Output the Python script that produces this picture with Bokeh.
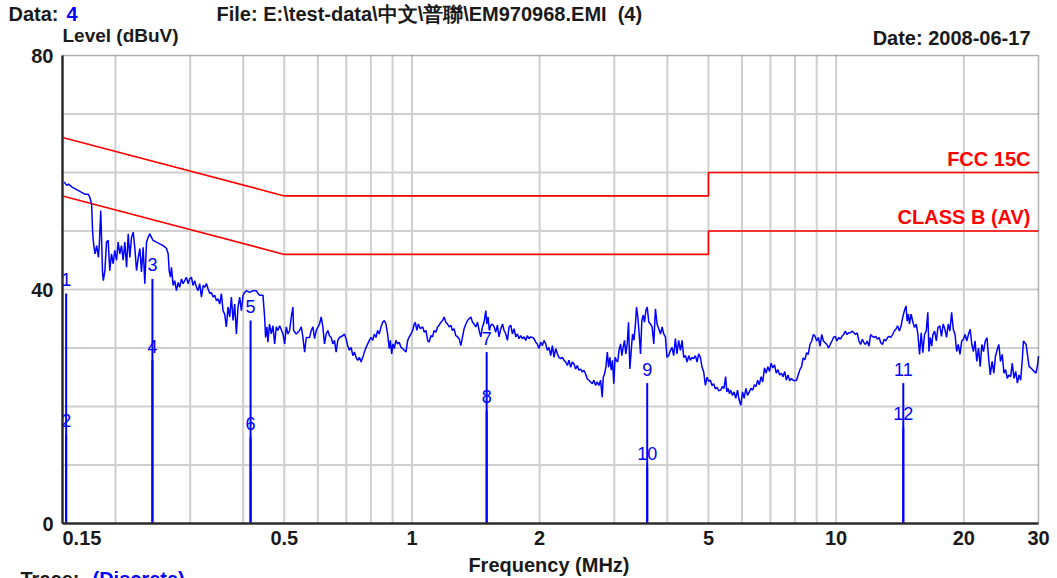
import math
from bokeh.plotting import figure
from bokeh.models import FixedTicker, Label, LabelSet, ColumnDataSource, CustomJSTickFormatter, BoxAnnotation
from bokeh.core.properties import value
from bokeh.embed import file_html
from bokeh.resources import INLINE

# ---------------- data ----------------
TRACE_FREQ_MHZ = [
    0.1512, 0.1536, 0.1550, 0.1580, 0.1608, 0.1636, 0.1664, 0.1693, 0.1724, 0.1739,
    0.1757, 0.1766, 0.1774, 0.1782, 0.1790, 0.1806, 0.1823, 0.1833, 0.1846, 0.1854,
    0.1864, 0.1872, 0.1888, 0.1905, 0.1922, 0.1939, 0.1957, 0.1975, 0.1992, 0.2011,
    0.2029, 0.2047, 0.2066, 0.2085, 0.2104, 0.2124, 0.2143, 0.2162, 0.2182, 0.2202,
    0.2222, 0.2242, 0.2263, 0.2283, 0.2303, 0.2324, 0.2345, 0.2367, 0.2388, 0.2410,
    0.2431, 0.2453, 0.2498, 0.2543, 0.2591, 0.2638, 0.2662, 0.2677, 0.2695, 0.2710,
    0.2735, 0.2758, 0.2785, 0.2810, 0.2835, 0.2861, 0.2887, 0.2912, 0.2939, 0.2966,
    0.2992, 0.3020, 0.3047, 0.3074, 0.3103, 0.3131, 0.3159, 0.3189, 0.3218, 0.3247,
    0.3277, 0.3307, 0.3336, 0.3366, 0.3397, 0.3427, 0.3459, 0.3490, 0.3521, 0.3554,
    0.3586, 0.3618, 0.3651, 0.3684, 0.3718, 0.3752, 0.3786, 0.3820, 0.3855, 0.3890,
    0.3925, 0.3961, 0.3997, 0.4033, 0.4070, 0.4143, 0.4219, 0.4296, 0.4335, 0.4374,
    0.4454, 0.4494, 0.4518, 0.4551, 0.4575, 0.4614, 0.4660, 0.4702, 0.4745, 0.4788,
    0.4831, 0.4876, 0.4965, 0.5010, 0.5055, 0.5101, 0.5147, 0.5194, 0.5240, 0.5260,
    0.5335, 0.5432, 0.5483, 0.5533, 0.5583, 0.5634, 0.5736, 0.5788, 0.5841, 0.5893,
    0.5947, 0.6054, 0.6110, 0.6165, 0.6220, 0.6277, 0.6334, 0.6390, 0.6450, 0.6508,
    0.6566, 0.6626, 0.6686, 0.6746, 0.6868, 0.6930, 0.6993, 0.7056, 0.7119, 0.7188,
    0.7253, 0.7317, 0.7384, 0.7451, 0.7516, 0.7586, 0.7656, 0.7723, 0.7793, 0.7864,
    0.7934, 0.8007, 0.8080, 0.8151, 0.8225, 0.8300, 0.8374, 0.8454,
    0.8530, 0.8605, 0.8683, 0.8761, 0.8840, 0.8895, 0.8959, 0.9020, 0.9084, 0.9165,
    0.9250, 0.9333, 0.9421, 0.9504, 0.9591, 0.9680, 0.9770, 0.9855, 0.9946, 1.0038,
    1.0125, 1.018, 1.027, 1.035, 1.046, 1.060, 1.069, 1.079, 1.089, 1.098,
    1.108, 1.118, 1.128, 1.139, 1.149, 1.159, 1.170, 1.181, 1.191, 1.202,
    1.213, 1.224, 1.235, 1.246, 1.257, 1.269, 1.281, 1.292, 1.304, 1.316,
    1.327, 1.340, 1.352, 1.364, 1.377, 1.389, 1.401, 1.414, 1.427, 1.440,
    1.453, 1.466, 1.479, 1.493, 1.501, 1.512, 1.522, 1.534, 1.548, 1.562,
    1.576, 1.590, 1.604, 1.620, 1.635, 1.649, 1.664, 1.679, 1.694, 1.710,
    1.725, 1.741, 1.757, 1.773, 1.788, 1.805, 1.821, 1.838, 1.855, 1.871,
    1.888, 1.905, 1.923, 1.940, 1.958, 1.975, 1.993, 2.012, 2.030, 2.048,
    2.067, 2.085, 2.104, 2.124, 2.143, 2.162, 2.182, 2.202, 2.221, 2.242,
    2.262, 2.283, 2.304, 2.324, 2.345, 2.366, 2.388, 2.409, 2.431, 2.453,
    2.475, 2.498, 2.520, 2.543, 2.566, 2.590, 2.613, 2.637, 2.661, 2.685,
    2.710, 2.734, 2.759, 2.784, 2.809, 2.825, 2.845, 2.865, 2.888, 2.908,
    2.928, 2.949, 2.970, 2.991, 3.012, 3.033, 3.055, 3.077, 3.103, 3.125,
    3.147, 3.170, 3.193, 3.217, 3.240, 3.264, 3.288, 3.311, 3.335, 3.360,
    3.384, 3.408, 3.433, 3.458, 3.483, 3.509, 3.534, 3.560, 3.586, 3.618,
    3.651, 3.683, 3.716, 3.750, 3.783, 3.817, 3.854, 3.888, 3.922, 3.958,
    3.993, 4.029, 4.069, 4.103, 4.140, 4.178, 4.215, 4.253, 4.295, 4.334,
    4.372, 4.414, 4.453, 4.493, 4.534, 4.575, 4.616, 4.659, 4.701, 4.743,
    4.786, 4.830, 4.873, 4.918, 4.963, 5.007, 5.052, 5.099, 5.144, 5.191,
    5.238, 5.285,
    5.343, 5.392, 5.440, 5.490, 5.523, 5.562, 5.604, 5.643, 5.695, 5.748,
    5.800, 5.854, 5.908, 5.960, 6.015, 6.071, 6.127, 6.183, 6.241, 6.299,
    6.357, 6.416, 6.471, 6.531, 6.592, 6.654, 6.715, 6.777, 6.840, 6.903,
    6.967, 7.028, 7.093, 7.158, 7.225, 7.291, 7.358, 7.427, 7.496, 7.565,
    7.631, 7.702, 7.773, 7.844, 7.917, 7.990, 8.064, 8.139, 8.214, 8.291,
    8.363, 8.440, 8.519, 8.597, 8.677, 8.757, 8.838, 8.920, 9.003, 9.081,
    9.165, 9.249, 9.335, 9.422, 9.509, 9.597, 9.685, 9.775, 9.860, 9.951,
    10.04, 10.14, 10.23, 10.32, 10.42, 10.51, 10.61, 10.71, 10.81, 10.91,
    11.01, 11.11, 11.21, 11.32, 11.42, 11.53, 11.63, 11.73, 11.84, 11.95,
    12.06, 12.17, 12.28, 12.40, 12.51, 12.63, 12.74, 12.86, 12.98, 13.10,
    13.22, 13.34, 13.46, 13.59, 13.71, 13.83, 13.96, 14.10, 14.23, 14.35,
    14.49, 14.62, 14.70, 14.81, 14.89, 15.03, 15.17, 15.31, 15.45, 15.59,
    15.73, 15.87, 16.01, 16.16, 16.31, 16.45, 16.55, 16.67, 16.80, 16.91,
    17.07, 17.23, 17.38, 17.56, 17.72, 17.88, 18.05, 18.21, 18.38, 18.55,
    18.72, 18.89, 19.07, 19.24, 19.41, 19.59, 19.77, 19.95, 20.14, 20.32,
    20.51, 20.70, 20.89, 21.07, 21.26, 21.46, 21.66, 21.86, 22.06, 22.26,
    22.47, 22.68, 22.88, 23.09, 23.32, 23.54, 23.75, 23.97, 24.19, 24.41,
    24.64, 24.87, 25.09, 25.32, 25.55, 25.79, 26.02, 26.26, 26.51, 26.75,
    26.99, 27.23, 27.49, 27.64, 27.85, 28.05, 28.25, 28.51, 28.78, 29.04,
    29.31, 29.59, 29.85, 30.0,
]
TRACE_LEVEL_DBUV = [
    58.4, 57.8, 58.0, 57.5, 57.2, 56.9, 56.6, 56.3, 56.3, 55.8,
    54.6, 50.0, 48.1, 47.0, 46.1, 47.5, 45.5, 48.1, 53.5, 48.9,
    43.0, 41.5, 43.2, 48.1, 48.4, 43.2, 46.1, 44.4, 46.7, 45.0,
    48.1, 46.1, 47.5, 45.0, 48.1, 43.8, 49.5, 45.5, 48.9, 49.8,
    47.0, 43.2, 45.5, 47.0, 43.0, 47.2, 41.0, 48.1, 48.9, 49.5,
    48.9, 48.4, 48.1, 47.8, 47.5, 47.0, 46.1, 43.2, 42.1, 43.8,
    40.7, 41.5, 39.8, 41.2, 40.4, 41.8, 41.0, 41.5, 42.1, 41.0,
    41.8, 42.1, 40.7, 41.5, 40.4, 39.8, 41.0, 38.7, 40.7, 40.4,
    41.0, 40.1, 39.3, 39.5, 38.7, 39.0, 38.1, 38.4, 37.5, 39.3,
    36.4, 35.8, 33.6, 37.0, 35.3, 38.7, 34.7, 37.5, 32.4, 37.0,
    38.7, 36.4, 39.0, 39.5, 39.8, 39.5, 39.8, 39.8, 39.3, 39.0,
    39.0, 35.3, 31.8, 33.6, 31.0, 34.1, 32.4, 33.8, 30.7, 33.6,
    33.0, 33.8, 32.4, 30.7, 33.6, 32.4, 33.0, 35.3, 37.0, 33.0,
    32.4, 33.0, 33.6, 31.8, 29.3, 31.8, 31.8, 33.0, 33.6, 31.6,
    33.0, 34.1, 35.3, 33.6, 30.7, 32.4, 33.0, 32.1, 31.8, 30.7,
    31.3, 29.3, 31.3, 31.8, 32.1, 32.4, 31.6, 30.4, 29.6, 30.1,
    28.7, 29.3, 28.4, 27.9, 28.4, 27.6, 28.4, 29.3, 30.1, 30.7,
    31.3, 31.8, 31.3, 32.4, 31.8, 33.0, 32.4, 33.6,
    34.4, 34.7, 34.1, 32.4, 29.9, 31.3, 29.0, 30.7, 29.9, 31.3,
    30.7, 31.0, 30.1, 29.9, 29.6, 29.3, 31.3, 31.9, 32.4, 33.0,
    34.1, 34.4, 33.0, 34.1, 33.3, 33.6, 32.7, 33.0, 31.3, 31.0,
    32.1, 31.9, 33.0, 32.7, 33.6, 33.9, 34.4, 34.7, 35.3, 34.4,
    34.1, 33.6, 33.9, 33.0, 33.3, 32.1, 31.9, 31.6, 30.4, 31.9,
    33.3, 34.1, 34.7, 35.0, 35.3, 34.4, 34.1, 33.6, 34.4, 33.0,
    31.9, 33.6, 34.4, 36.4, 34.1, 35.3, 33.0, 33.9, 34.1, 33.6,
    32.7, 33.9, 31.9, 33.3, 34.1, 33.0, 32.4, 31.3, 33.6, 33.9,
    32.4, 33.3, 31.9, 32.4, 31.6, 32.1, 31.6, 31.9, 31.3, 32.1,
    31.6, 31.9, 31.8, 31.6, 31.0, 30.7, 29.9, 31.0, 30.4, 31.3,
    30.7, 29.6, 30.1, 28.7, 30.4, 28.4, 29.9, 29.0, 28.4, 28.2,
    28.4, 27.9, 27.6, 27.0, 27.9, 26.7, 27.6, 27.3, 26.4, 27.0,
    26.2, 26.4, 25.9, 26.2, 25.6, 24.7, 24.5, 24.2, 23.9, 24.5,
    23.6, 24.2, 23.6, 24.5, 21.6, 25.0, 25.6, 26.7, 29.3, 26.7,
    28.4, 26.2, 27.9, 23.9, 28.4, 27.9, 27.6, 29.6, 30.7, 28.7,
    30.1, 31.3, 29.0, 30.7, 34.4, 26.4, 29.6, 32.4, 31.3, 33.6,
    37.0, 35.3, 32.4, 29.0, 34.7, 35.6, 34.4, 36.4, 37.0, 34.4,
    34.1, 33.6, 30.7, 36.7, 34.1, 33.3, 32.4, 33.6, 32.4, 31.9,
    28.4, 28.7, 29.6, 30.1, 28.7, 31.6, 29.0, 31.3, 29.6, 31.3,
    28.4, 28.7, 27.6, 28.7, 27.9, 28.4, 28.2, 28.7, 27.6, 29.0,
    28.4, 26.7, 25.9, 23.6, 25.0, 24.3, 24.5, 23.6, 23.9, 23.0,
    23.3, 22.7,
    22.8, 23.4, 23.1, 25.1, 22.5, 23.1, 22.2, 22.8, 21.9, 22.5,
    21.4, 22.8, 21.1, 20.2, 22.5, 21.4, 23.1, 21.9, 22.5, 23.1,
    22.8, 23.7, 23.4, 24.5, 23.7, 25.1, 24.2, 26.6, 25.7, 26.8,
    26.0, 27.4, 26.6, 27.1, 25.7, 26.3, 25.4, 25.7, 25.1, 26.0,
    24.5, 25.4, 24.4, 24.8, 24.5, 24.4, 24.5, 25.4, 26.3, 26.8,
    28.3, 28.0, 29.2, 28.9, 30.6, 31.2, 32.3, 32.0, 31.2, 31.8,
    30.3, 32.3, 31.2, 30.9, 30.6, 30.0, 30.6, 31.2, 31.8, 32.0,
    31.2, 31.8, 31.5, 32.0, 32.3, 32.9, 32.3, 32.6, 32.6, 32.9,
    32.6, 32.3, 32.6, 31.2, 30.6, 31.5, 30.9, 30.6, 31.2, 30.3,
    32.3, 32.0, 31.8, 32.0, 31.5, 31.8, 30.9, 30.6, 31.5, 31.2,
    31.8, 32.0, 31.8, 32.3, 32.9, 33.2, 33.8, 32.9, 33.8, 35.2,
    36.4, 37.2, 34.6, 35.8, 34.1, 35.8, 34.4, 33.5, 34.1, 32.3,
    28.9, 32.6, 29.2, 32.3, 32.9, 36.1, 29.4, 31.8, 30.3, 32.3,
    32.9, 31.2, 33.5, 33.8, 32.0, 34.1, 33.2, 31.8, 34.1, 32.9,
    36.1, 33.2, 32.3, 29.4, 30.6, 28.9, 31.2, 31.5, 32.3, 31.2,
    32.3, 33.2, 30.6, 29.4, 31.2, 27.7, 30.0, 26.8, 30.6, 29.4,
    31.2, 31.8, 28.3, 25.4, 27.7, 25.7, 28.6, 29.7, 30.6, 27.7,
    28.9, 25.7, 26.3, 24.8, 25.4, 25.1, 27.4, 24.8, 26.0, 24.0,
    25.4, 24.5, 28.3, 31.2, 30.9, 30.6, 28.9, 26.8, 26.6, 26.3,
    26.0, 25.7, 27.1, 28.6,
]

QP_LIMIT_FREQ = [0.15, 0.5, 5.0, 5.0, 30.0]
QP_LIMIT_LEVEL = [66.0, 56.0, 56.0, 60.0, 60.0]
AV_LIMIT_FREQ = [0.15, 0.5, 5.0, 5.0, 30.0]
AV_LIMIT_LEVEL = [56.0, 46.0, 46.0, 50.0, 50.0]

MARKER_NO = ["1", "2", "3", "4", "5", "6", "7", "8", "9", "10", "11", "12"]
MARKER_FREQ = [0.1530, 0.1530, 0.2444, 0.2444, 0.4164, 0.4164,
               1.50, 1.50, 3.586, 3.586, 14.40, 14.40]
MARKER_LEVEL = [39.3, 15.2, 41.8, 27.9, 34.7, 14.7,
                29.3, 19.3, 24.0, 9.6, 24.0, 16.4]

F_MIN, F_MAX = 0.15, 30.0
L_MIN, L_MAX = 0.0, 80.0
X_TICKS = [0.5, 1, 2, 5, 10, 20, 30]
X_GRID = [0.2, 0.3, 0.4, 0.5, 0.6, 0.7, 0.8, 0.9, 1, 2, 3, 4, 5, 6, 7, 8, 9, 10, 20]
Y_TICKS = [0, 40, 80]
Y_GRID = [10, 20, 30, 40, 50, 60, 70]

FONT = "Liberation Sans"
BLUE = "#0000ff"
RED = "#ff0000"
DARK = "#1a1a1a"
GRID = "#cfcfcf"

# ---------------- page geometry (pixels) ----------------
W, H = 1052, 578
PLOT_L, PLOT_R, PLOT_T, PLOT_B = 62, 1038, 55, 523      # chart box inside the canvas
px_per_dec = (PLOT_R - PLOT_L) / math.log10(F_MAX / F_MIN)
px_per_db = (PLOT_B - PLOT_T) / (L_MAX - L_MIN)
x_range = (F_MIN / 10 ** (PLOT_L / px_per_dec), F_MAX * 10 ** ((W - PLOT_R) / px_per_dec))
y_range = (L_MIN - (H - PLOT_B) / px_per_db, L_MAX + PLOT_T / px_per_db)

p = figure(
    x_axis_type="log", x_range=x_range, y_range=y_range,
    width=W, height=H, min_border=0,
    output_backend="svg", toolbar_location=None,
    background_fill_color="white", border_fill_color="white",
)
p.title.visible = False
p.outline_line_color = None
p.xgrid.visible = False
p.ygrid.visible = False

# axes pinned to the chart box
p.xaxis.fixed_location = L_MIN
p.yaxis.fixed_location = F_MIN
p.xaxis.bounds = (F_MIN, F_MAX)
p.yaxis.bounds = (L_MIN, L_MAX)
p.xaxis.ticker = FixedTicker(ticks=X_TICKS)
p.xaxis.formatter = CustomJSTickFormatter(code="return tick.toString();")
p.yaxis.ticker = FixedTicker(ticks=Y_TICKS)

for ax in (p.xaxis, p.yaxis):
    ax.axis_line_color = "#3a3a3a"
    ax.axis_line_width = 2.5
    ax.major_tick_line_color = None
    ax.minor_tick_line_color = None
    ax.major_tick_out = 0
    ax.major_tick_in = 0
    ax.major_label_text_font = FONT
    ax.major_label_text_font_style = "bold"
    ax.major_label_text_font_size = "20px"
    ax.major_label_text_color = DARK
p.xaxis.major_label_standoff = 7
p.yaxis.major_label_standoff = 9

# grid lines, limited to the chart box
p.segment(x0=X_GRID, y0=[L_MIN] * len(X_GRID), x1=X_GRID, y1=[L_MAX] * len(X_GRID),
          line_color=GRID, line_width=2)
p.segment(x0=[F_MIN] * len(Y_GRID), y0=Y_GRID, x1=[F_MAX] * len(Y_GRID), y1=Y_GRID,
          line_color=GRID, line_width=2)

# top / right edges of the chart box
p.add_layout(BoxAnnotation(left=F_MIN, right=F_MAX, bottom=L_MIN, top=L_MAX,
                           fill_color=None, fill_alpha=0, line_color="black",
                           line_width=1.5, level="guide"))

# marker lines and their numbers
msrc = ColumnDataSource(dict(f=MARKER_FREQ, lv=MARKER_LEVEL, no=MARKER_NO,
                             base=[L_MIN] * len(MARKER_NO)))
p.add_layout(LabelSet(x="f", y="lv", text="no", source=msrc, y_offset=14,
                      text_align="center", text_baseline="middle",
                      text_font=value(FONT), text_font_size=value("18px"),
                      text_color=value(BLUE), level="glyph"))
p.segment(x0="f", y0="base", x1="f", y1="lv", source=msrc, line_color=BLUE, line_width=2)

# limit lines
p.line(QP_LIMIT_FREQ, QP_LIMIT_LEVEL, line_color=RED, line_width=1.6)
p.line(AV_LIMIT_FREQ, AV_LIMIT_LEVEL, line_color=RED, line_width=1.6)

# measured trace
p.line(TRACE_FREQ_MHZ, TRACE_LEVEL_DBUV, line_color=BLUE, line_width=1.5)

BASE_FIX = 8   # alphabetic-baseline labels render this many px low; lift them


def lab(text, x, y, xo, yo, align="left", baseline="alphabetic", color=DARK, size="20px"):
    if baseline == "alphabetic":
        yo += BASE_FIX
    p.add_layout(Label(x=x, y=y, x_offset=xo, y_offset=yo, text=text,
                       text_align=align, text_baseline=baseline,
                       text_font=FONT, text_font_size=size,
                       text_font_style="bold", text_color=color))


# limit names
lab("FCC 15C", F_MAX, 60, -8, 6, align="right", color=RED)
lab("CLASS B (AV)", F_MAX, 50, -8, 6, align="right", color=RED)

# header (anchored to the top-left / top-right corners of the chart box)
lab("Data:", F_MIN, L_MAX, -54, 34)
lab("4", F_MIN, L_MAX, 4, 34, color=BLUE)
lab("File: E:\\test-data\\中文\\普聯\\EM970968.EMI\u00a0 (4)", F_MIN, L_MAX, 154, 34)
lab("Level (dBuV)", F_MIN, L_MAX, 0, 12, size="19px")
lab("Date: 2008-06-17", F_MAX, L_MAX, -8, 10, align="right")

# bottom texts
lab("0.15", F_MIN, L_MIN, 0, -7, baseline="top")
lab("Frequency (MHz)", 1, L_MIN, 137, -49, align="center")
lab("Trace:", F_MIN, L_MIN, -42, -63)
lab("(Discrete)", F_MIN, L_MIN, 30, -63, color=BLUE)

open("out.html", "w").write(file_html(p, INLINE))
